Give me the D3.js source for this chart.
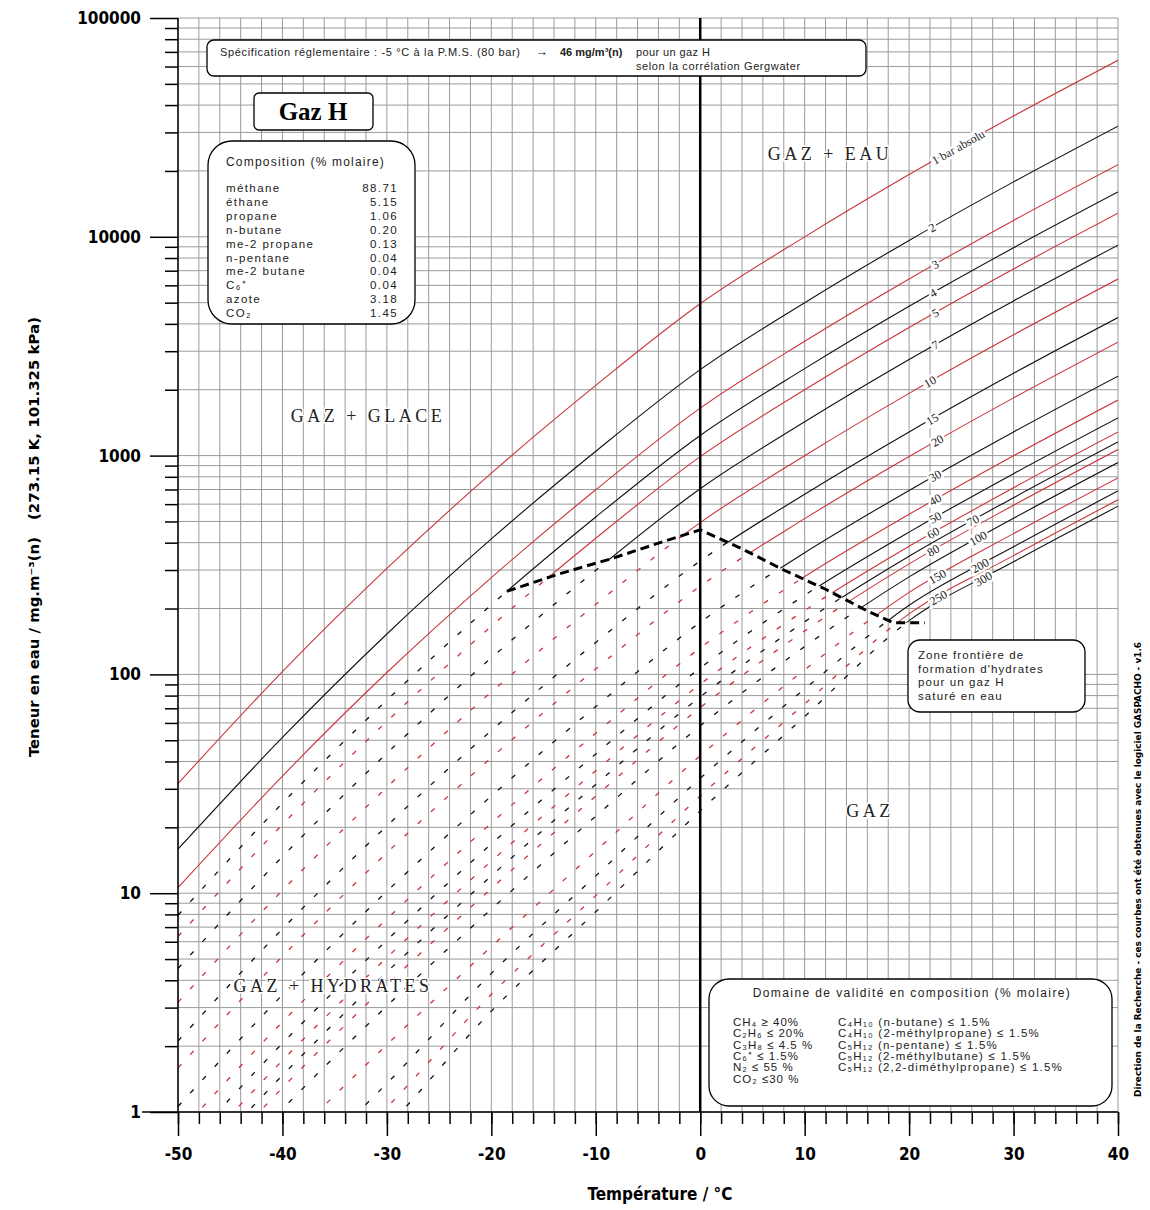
<!DOCTYPE html>
<html>
<head>
<meta charset="utf-8">
<script src="https://cdn.jsdelivr.net/npm/d3@7"></script>
<style>
body { margin: 0; background: #fff; }
svg text { font-family: "Liberation Sans", Arial, sans-serif; }
</style>
</head>
<body>
<svg id="chart" width="1150" height="1210"></svg>
<script>
// temperatures (°C) at which each isobar was read
const temps = [-50, -40, -30, -20, -10, 0, 10, 20, 30, 40];
const pressures = [1, 2, 3, 4, 5, 7, 10, 15, 20, 30, 40, 50, 60, 70, 80, 100, 150, 200, 250, 300];
const curveLabels = ["1 bar absolu", "2", "3", "4", "5", "7", "10", "15", "20", "30", "40", "50", "60", "70", "80", "100", "150", "200", "250", "300"];
const labelTemps = [24.7, 22.2, 22.5, 22.3, 22.5, 22.5, 22.0, 22.2, 22.7, 22.5, 22.5, 22.5, 22.3, 26.1, 22.3, 26.6, 22.7, 26.8, 22.8, 27.1];

// water content, mg/m3(n), one list per isobar
const w1 = [31.7, 103, 305, 831, 2094, 4943, 9993, 19250, 35650, 64090];
const w2 = [15.9, 51.5, 153, 416, 1047, 2472, 4997, 9625, 17825, 32045];
const w3 = [10.6, 34.3, 102, 277, 698, 1648, 3331, 6417, 11883, 21363];
const w4 = [7.93, 25.8, 76.3, 208, 524, 1236, 2498, 4813, 8913, 16023];
const w5 = [6.34, 20.6, 61.0, 166, 419, 989, 1999, 3850, 7130, 12818];
const w7 = [4.53, 14.7, 43.6, 119, 299, 706, 1428, 2750, 5093, 9156];
const w10 = [3.17, 10.3, 30.5, 83.1, 209, 494, 999, 1925, 3565, 6409];
const w15 = [2.11, 6.87, 20.3, 55.4, 140, 330, 666, 1283, 2377, 4273];
const w20 = [1.59, 5.15, 15.3, 41.6, 106, 253, 515, 991, 1836, 3301];
const w30 = [1.06, 3.43, 10.2, 27.8, 71.3, 173, 360, 693, 1283, 2307];
const w40 = [0.793, 2.58, 7.63, 20.9, 53.9, 132, 280, 539, 998, 1795];
const w50 = [0.634, 2.06, 6.10, 16.8, 43.3, 107, 230, 447, 827, 1487];
const w60 = [0.528, 1.72, 5.08, 14.0, 36.3, 90.2, 196, 385, 713, 1282];
const w70 = [0.453, 1.47, 4.36, 12.0, 31.4, 78.9, 174, 347, 642, 1154];
const w80 = [0.396, 1.29, 3.81, 10.5, 27.8, 70.5, 158, 320, 593, 1066];
const w100 = [0.317, 1.03, 3.05, 8.46, 22.5, 58.2, 134, 279, 517, 929];
const w150 = [0.211, 0.687, 2.03, 5.70, 15.6, 42.5, 105, 237, 440, 790];
const w200 = [0.14, 0.46, 1.35, 4.30, 12.0, 33.5, 85.8, 207, 383, 689];
const w250 = [0.11, 0.36, 1.05, 3.45, 9.75, 27.8, 73.3, 189, 349, 628];
const w300 = [0.095, 0.29, 0.85, 2.89, 8.22, 23.8, 64.2, 176, 327, 587];
const series = [w1, w2, w3, w4, w5, w7, w10, w15, w20, w30, w40, w50, w60, w70, w80, w100, w150, w200, w250, w300];

// hydrate formation boundary
const hydrateT = [-18.5, -13.5, -8.5, -4, 0, 4, 8, 12, 16, 18.5, 21.5];
const hydrateW = [240, 288, 338, 398, 458, 375, 300, 245, 195, 172, 172];

const xTicks = [-50, -40, -30, -20, -10, 0, 10, 20, 30, 40];
const yTicks = [1, 10, 100, 1000, 10000, 100000];

const compNames = ["méthane", "éthane", "propane", "n-butane", "me-2 propane", "n-pentane", "me-2 butane", "C₆⁺", "azote", "CO₂"];
const compValues = ["88.71", "5.15", "1.06", "0.20", "0.13", "0.04", "0.04", "0.04", "3.18", "1.45"];
const validLeft = ["CH₄ ≥ 40%", "C₂H₆ ≤ 20%", "C₃H₈ ≤ 4.5 %", "C₆⁺ ≤ 1.5%", "N₂ ≤ 55 %", "CO₂ ≤30 %"];
const validRight = ["C₄H₁₀ (n-butane) ≤ 1.5%", "C₄H₁₀ (2-méthylpropane) ≤ 1.5%", "C₅H₁₂ (n-pentane) ≤ 1.5%", "C₅H₁₂ (2-méthylbutane) ≤ 1.5%", "C₅H₁₂ (2,2-diméthylpropane) ≤ 1.5%"];
const zoneLines = ["Zone frontière de", "formation d'hydrates", "pour un gaz H", "saturé en eau"];

function drawChart() {
    var svg = d3.select("#chart");
    var pLeft = 178, pRight = 1118, pTop = 18, pBottom = 1112;
    var red = "#c9343a";
    var grey = "#9a9a9a";
    var boldFont = "'Liberation Sans Narrow', 'DejaVu Sans Condensed', 'Liberation Sans', sans-serif";
    var serif = "'Liberation Serif', 'DejaVu Serif', serif";

    var x = d3.scaleLinear().domain([-50, 40]).range([pLeft, pRight]);
    var y = d3.scaleLog().domain([1, 100000]).range([pBottom, pTop]);

    //grid
    var gridX = d3.range(-50, 41, 2);
    var gridY = [];
    for (var k = 0; k < 5; k++) {
        for (var m = 1; m < 10; m++) gridY.push(m * Math.pow(10, k));
    }
    gridY.push(100000);

    var grid = svg.append("g");
    grid.selectAll("line.gx").data(gridX).join("line").attr("class", "gx")
        .attr("x1", d => x(d)).attr("x2", d => x(d))
        .attr("y1", pTop).attr("y2", pBottom)
        .attr("stroke", grey).attr("stroke-width", 1);
    grid.selectAll("line.gy").data(gridY).join("line").attr("class", "gy")
        .attr("x1", pLeft).attr("x2", pRight)
        .attr("y1", d => y(d)).attr("y2", d => y(d))
        .attr("stroke", grey).attr("stroke-width", 1);

    // clip paths: plot area, hydrate zone, and everything else
    var defs = svg.append("defs");
    defs.append("clipPath").attr("id", "plotClip").append("rect")
        .attr("x", pLeft).attr("y", pTop).attr("width", pRight - pLeft).attr("height", pBottom - pTop);

    var regionPx = [[pLeft - 10, y(w4[0]) - 12]];
    temps.forEach(function(t, j) {
        if (t <= -20) regionPx.push([x(t), y(w4[j]) - 12]);
    });
    hydrateT.forEach(function(t, j) {
        regionPx.push([x(t), y(hydrateW[j])]);
    });
    regionPx.push([x(21.5), pBottom + 100], [pLeft - 10, pBottom + 100]);
    var regionD = "M" + regionPx.map(p => p[0] + "," + p[1]).join("L") + "Z";
    defs.append("clipPath").attr("id", "hydClip").append("path").attr("d", regionD);
    defs.append("clipPath").attr("id", "freeClip").append("path")
        .attr("clip-rule", "evenodd")
        .attr("d", "M" + (pLeft - 20) + "," + (pTop - 20) + "H" + (pRight + 20) + "V" + (pBottom + 150) + "H" + (pLeft - 20) + "Z" + regionD);

    var line = d3.line()
        .x(d => x(d[0]))
        .y(d => y(d[1]))
        .curve(d3.curveMonotoneX);

    var curves = svg.append("g").attr("clip-path", "url(#plotClip)");
    var solidG = curves.append("g").attr("clip-path", "url(#freeClip)");
    var dashG = curves.append("g").attr("clip-path", "url(#hydClip)");

    series.forEach(function(vals, i) {
        var pts = temps.map((t, j) => [t, vals[j]]);
        var col = i % 2 == 0 ? red : "#111";
        solidG.append("path").attr("d", line(pts))
            .attr("fill", "none").attr("stroke", col).attr("stroke-width", 1.1);
        dashG.append("path").attr("d", line(pts))
            .attr("fill", "none").attr("stroke", col).attr("stroke-width", 1.3)
            .attr("stroke-dasharray", "5,13");
    });

    // hydrate boundary
    svg.append("path")
        .attr("d", d3.line().x((d, j) => x(hydrateT[j])).y(d => y(d))(hydrateW))
        .attr("fill", "none").attr("stroke", "#000").attr("stroke-width", 3)
        .attr("stroke-dasharray", "9,5");

    // 0 °C line
    svg.append("line")
        .attr("x1", x(0)).attr("x2", x(0)).attr("y1", pTop).attr("y2", pBottom)
        .attr("stroke", "#000").attr("stroke-width", 2.5);

    // curve labels
    function valAt(vals, t) {
        var i = Math.max(0, Math.min(temps.length - 2, d3.bisectRight(temps, t) - 1));
        var f = (t - temps[i]) / (temps[i + 1] - temps[i]);
        return Math.pow(10, Math.log10(vals[i]) + f * (Math.log10(vals[i + 1]) - Math.log10(vals[i])));
    }
    series.forEach(function(vals, i) {
        var t = labelTemps[i];
        var px = x(t), py = y(valAt(vals, t));
        var dx = x(t + 1) - x(t - 1);
        var dy = y(valAt(vals, t + 1)) - y(valAt(vals, t - 1));
        var ang = Math.atan2(dy, dx) * 180 / Math.PI;
        svg.append("text")
            .attr("transform", "translate(" + px + "," + py + ") rotate(" + ang + ")")
            .attr("text-anchor", "middle").attr("dy", "0.35em")
            .style("font-family", serif).style("font-size", "12px")
            .attr("fill", "#222").attr("stroke", "#fff").attr("stroke-width", 5)
            .attr("paint-order", "stroke")
            .text(curveLabels[i]);
    });

    // axes
    svg.append("line").attr("x1", pLeft).attr("x2", pLeft).attr("y1", pTop).attr("y2", pBottom)
        .attr("stroke", "#000").attr("stroke-width", 1.5);
    svg.append("line").attr("x1", 142).attr("x2", pRight).attr("y1", pBottom).attr("y2", pBottom)
        .attr("stroke", "#000").attr("stroke-width", 1.5);

    var yMinor = gridY.filter(d => yTicks.indexOf(d) < 0);
    var yAxisMinor = svg.append("g").attr("transform", "translate(" + pLeft + ",0)")
        .call(d3.axisLeft(y).tickValues(yMinor).tickSize(13).tickFormat(""));
    var yAxis = svg.append("g").attr("transform", "translate(" + pLeft + ",0)")
        .call(d3.axisLeft(y).tickValues(yTicks).tickSize(28).tickPadding(9).tickFormat(d3.format("d")));
    var xAxisMinor = svg.append("g").attr("transform", "translate(0," + pBottom + ")")
        .call(d3.axisBottom(x).tickValues(gridX).tickSize(12).tickFormat(""));
    var xAxis = svg.append("g").attr("transform", "translate(0," + pBottom + ")")
        .call(d3.axisBottom(x).tickValues(xTicks).tickSize(24).tickPadding(12).tickFormat(d3.format("d")));

    [yAxisMinor, yAxis, xAxisMinor, xAxis].forEach(function(g) {
        g.select(".domain").remove();
        g.selectAll(".tick line").attr("stroke", "#000").attr("stroke-width", 1.5);
        g.selectAll("text").style("font-family", boldFont).style("font-size", "17px")
            .style("font-weight", "bold").attr("fill", "#000");
    });
    xAxis.selectAll("text").text(d => d < 0 ? "-" + Math.abs(d) : d);

    // axis titles
    svg.append("text").attr("x", 660).attr("y", 1200).attr("text-anchor", "middle")
        .style("font-family", boldFont).style("font-size", "17px").style("font-weight", "bold")
        .text("Température / °C");
    svg.append("text").attr("transform", "translate(39,757) rotate(-90)")
        .style("font-family", boldFont).style("font-size", "14px").style("font-weight", "bold")
        .attr("textLength", 220).attr("lengthAdjust", "spacingAndGlyphs")
        .text("Teneur en eau / mg.m⁻³(n)");
    svg.append("text").attr("transform", "translate(39,520) rotate(-90)")
        .style("font-family", boldFont).style("font-size", "14px").style("font-weight", "bold")
        .attr("textLength", 203).attr("lengthAdjust", "spacingAndGlyphs")
        .text("(273.15 K, 101.325 kPa)");
    svg.append("text").attr("transform", "translate(1141,1097) rotate(-90)")
        .style("font-family", boldFont).style("font-size", "9.5px").style("font-weight", "bold")
        .attr("textLength", 455).attr("lengthAdjust", "spacingAndGlyphs")
        .text("Direction de la Recherche - ces courbes ont été obtenues avec le logiciel GASPACHO - v1.6");

    // zone labels
    function zoneLabel(txt, cx, cy) {
        svg.append("text").attr("x", cx).attr("y", cy).attr("text-anchor", "middle")
            .style("font-family", serif).style("font-size", "18px").style("letter-spacing", "3.5px")
            .attr("fill", "#222").attr("stroke", "#fff").attr("stroke-width", 3)
            .attr("paint-order", "stroke").text(txt);
    }
    zoneLabel("GAZ + EAU", 830, 160);
    zoneLabel("GAZ + GLACE", 368, 422);
    zoneLabel("GAZ", 870, 817);
    zoneLabel("GAZ + HYDRATES", 333, 992);

    // boxes
    function box(x0, y0, w, h, r) {
        svg.append("rect").attr("x", x0).attr("y", y0).attr("width", w).attr("height", h)
            .attr("rx", r).attr("ry", r)
            .attr("fill", "#fff").attr("stroke", "#000").attr("stroke-width", 1.3);
    }
    function smallText(txt, tx, ty, size, anchor, spacing) {
        return svg.append("text").attr("x", tx).attr("y", ty)
            .attr("text-anchor", anchor || "start")
            .style("font-size", size + "px").style("letter-spacing", (spacing || 0) + "px")
            .attr("fill", "#222").text(txt);
    }

    // regulatory spec box
    box(207, 40, 659, 36, 7);
    smallText("Spécification réglementaire : -5 °C à la P.M.S. (80 bar)", 220, 56, 11)
        .attr("textLength", 300).attr("lengthAdjust", "spacing");
    smallText("→", 535, 56, 13).style("font-weight", "bold");
    smallText("46 mg/m³(n)", 560, 56, 11).style("font-weight", "bold");
    smallText("pour un gaz H", 636, 56, 11, "start", 0.4);
    smallText("selon la corrélation Gergwater", 636, 70, 11, "start", 0.6);

    // Gaz H
    box(254, 93, 119, 37, 5);
    svg.append("text").attr("x", 313).attr("y", 120).attr("text-anchor", "middle")
        .style("font-family", serif).style("font-size", "25px").style("font-weight", "bold")
        .text("Gaz H");

    // composition
    box(208, 141, 207, 183, 24);
    smallText("Composition (% molaire)", 226, 166, 12, "start", 1.2);
    compNames.forEach(function(nm, i) {
        smallText(nm, 226, 192 + i * 13.9, 11.5, "start", 1.4);
        smallText(compValues[i], 398, 192 + i * 13.9, 11.5, "end", 1.4);
    });

    // hydrate zone box
    box(908, 640, 177, 72, 12);
    zoneLines.forEach(function(t, i) {
        smallText(t, 918, 659 + i * 13.5, 11.5, "start", 1.1);
    });

    // validity box
    box(709, 979, 403, 127, 20);
    smallText("Domaine de validité en composition (% molaire)", 912, 997, 12, "middle", 1.4);
    validLeft.forEach(function(t, i) {
        smallText(t, 733, 1026 + i * 11.3, 11.5, "start", 1.0);
    });
    validRight.forEach(function(t, i) {
        smallText(t, 838, 1026 + i * 11.3, 11.5, "start", 1.2);
    });
}

drawChart();
</script>
</body>
</html>
